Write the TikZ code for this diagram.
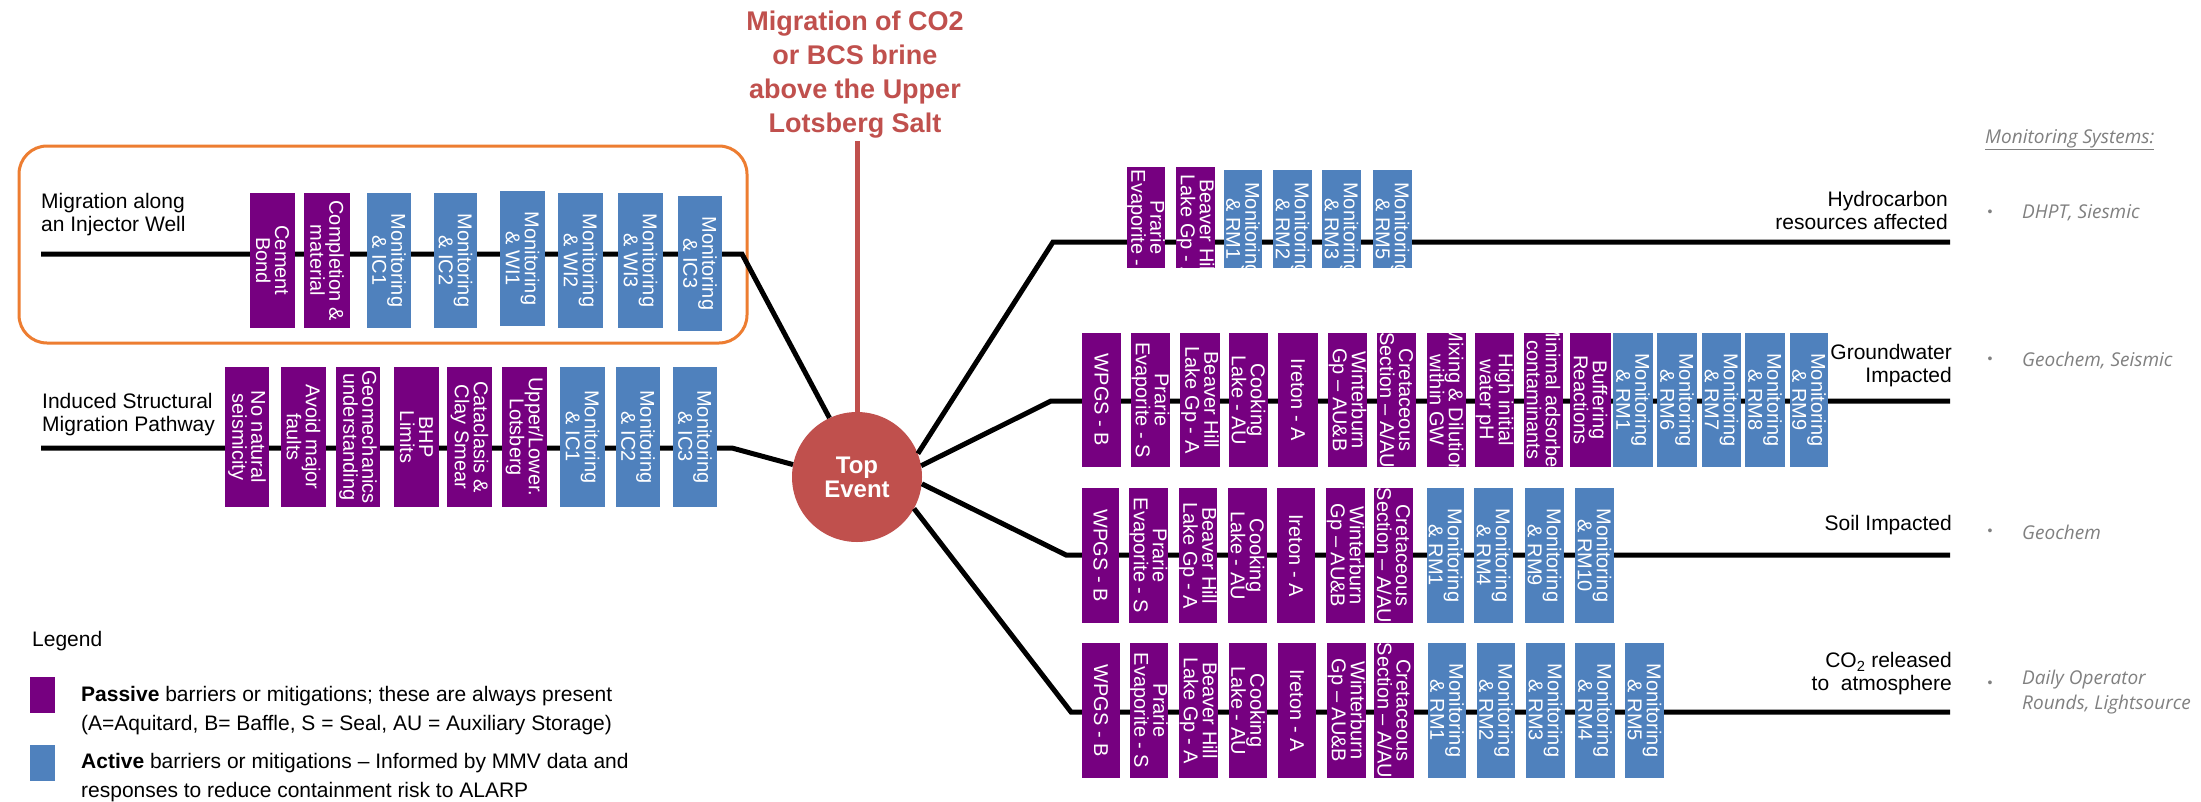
\documentclass[tikz,border=0pt]{standalone}
\usepackage{fontspec}
\setmainfont{Liberation Sans}
\newfontfamily\notefont{Open Sans}
\definecolor{passive}{RGB}{118,0,128}
\definecolor{active}{RGB}{79,129,189}
\definecolor{eventred}{RGB}{192,80,77}
\definecolor{wellorange}{RGB}{237,125,49}
\definecolor{notegray}{RGB}{128,128,128}

\tikzset{
  branch/.style={line width=5pt, black},
  riser/.style={line width=5pt, eventred},
  barbox/.style={inner sep=0pt, outer sep=0pt, draw=none},
  bartext/.style={rotate=-90, text=white, align=center, inner sep=0pt,
    font=\fontsize{20}{19}\selectfont},
  lbl/.style={inner sep=0pt, font=\fontsize{21}{23}\selectfont},
  lgd/.style={inner sep=0pt, font=\fontsize{21}{29}\selectfont, align=left, anchor=west},
  note/.style={inner sep=0pt, text=notegray, anchor=west,
    font=\notefont\itshape\fontsize{19}{25}\selectfont},
  dot/.style={inner sep=0pt, text=notegray, font=\fontsize{14}{14}\selectfont},
  swatch/.style={inner sep=0pt, minimum width=25pt, minimum height=36pt, anchor=north west},
}

% vertical drop of the text inside a barrier box (pt, downwards)
\def\textdrop{0}
% barrier box: name, colour, left, right, top, bottom, text (clipped to the box)
\newcommand{\barrier}[7]{%
  \node[barbox, fill=#2, minimum width={(#4-#3)*1pt}, minimum height={(#6-#5)*1pt},
        path picture={\node[bartext] (#1t) at ([yshift=-\textdrop pt]path picture bounding box.center) {#7};}]
        (#1) at ({(#3+#4)/2},{(#5+#6)/2}) {};}

\begin{document}
\begin{tikzpicture}[x=1pt, y=-1pt]
\path[use as bounding box, fill=white] (0,0) rectangle (2201,801);

% title and top event
\node[align=center, text=eventred, inner sep=0pt,
      font=\bfseries\fontsize{27}{34}\selectfont] (title) at (855,75)
      {Migration of CO2\\or BCS brine\\above the Upper\\Lotsberg Salt};
\node[circle, fill=eventred, minimum size=130pt, inner sep=0pt, text=white, align=center,
      font=\bfseries\fontsize{24}{24}\selectfont] (top) at (857,477) {Top\\Event};
\coordinate (rise) at (857,141);
\draw[riser] (rise) -- (top.north);

% injector-well group frame
\draw[wellorange, line width=3pt, rounded corners=28pt] (19,146) rectangle (747,343);

% threat branches (left)
\coordinate (a1) at (41,254);  \coordinate (a1b) at (742,254);
\coordinate (a2) at (41,448);  \coordinate (a2b) at (732,448);
\draw[branch] (a1) -- (a1b) -- (top.115);
\draw[branch] (a2) -- (a2b) -- (top.169);

% consequence branches (right)
\coordinate (b1) at (1950,242); \coordinate (b1b) at (1053,242);
\coordinate (b2) at (1950,401); \coordinate (b2b) at (1051,401);
\coordinate (b3) at (1950,555); \coordinate (b3b) at (1066,555);
\coordinate (b4) at (1950,712); \coordinate (b4b) at (1071,712);
\draw[branch] (top.21)  -- (b1b) -- (b1);
\draw[branch] (top.10)  -- (b2b) -- (b2);
\draw[branch] (top.-6)  -- (b3b) -- (b3);
\draw[branch] (top.-29) -- (b4b) -- (b4);

% injector well barriers
\barrier{w1}{passive}{250}{295}{193}{328}{Cement\\Bond}
\barrier{w2}{passive}{304}{350}{193}{328}{Completion \&\\material}
\barrier{w3}{active}{367}{411}{193}{328}{Monitoring\\\& IC1}
\barrier{w4}{active}{434}{477}{193}{328}{Monitoring\\\& IC2}
\barrier{w5}{active}{500}{545}{191}{326}{Monitoring\\\& WI1}
\barrier{w6}{active}{558}{603}{193}{328}{Monitoring\\\& WI2}
\barrier{w7}{active}{618}{663}{193}{328}{Monitoring\\\& WI3}
\barrier{w8}{active}{678}{722}{196}{331}{Monitoring\\\& IC3}

% structural pathway barriers
\barrier{s1}{passive}{225}{269}{367}{507}{No natural\\seismicity}
\barrier{s2}{passive}{281}{326}{367}{507}{Avoid major\\faults}
\barrier{s3}{passive}{336}{380}{367}{507}{Geomechanics\\understanding}
\barrier{s4}{passive}{394}{439}{367}{507}{BHP\\Limits}
\barrier{s5}{passive}{447}{492}{367}{507}{Cataclasis \&\\Clay Smear}
\barrier{s6}{passive}{502}{547}{367}{507}{Upper/Lower.\\Lotsberg}
\barrier{s7}{active}{560}{605}{367}{507}{Monitoring\\\& IC1}
\barrier{s8}{active}{616}{660}{367}{507}{Monitoring\\\& IC2}
\barrier{s9}{active}{673}{717}{367}{507}{Monitoring\\\& IC3}

% hydrocarbon resources (short boxes, text runs past the lower edge)
\def\textdrop{10}
\barrier{h1}{passive}{1127}{1165}{167}{268}{Prarie\\Evaporite - S}
\barrier{h2}{passive}{1176}{1215}{167}{268}{Beaver Hill\\Lake Gp - A}
\barrier{h3}{active}{1224}{1262}{170}{268}{Monitoring\\\& RM1}
\barrier{h4}{active}{1273}{1312}{170}{268}{Monitoring\\\& RM2}
\barrier{h5}{active}{1322}{1361}{170}{268}{Monitoring\\\& RM3}
\barrier{h6}{active}{1373}{1412}{170}{268}{Monitoring\\\& RM5}
\def\textdrop{0}

% groundwater
\barrier{g1}{passive}{1082}{1121}{333}{467}{WPGS - B}
\barrier{g2}{passive}{1131}{1170}{333}{467}{Prarie\\Evaporite - S}
\barrier{g3}{passive}{1180}{1220}{333}{467}{Beaver Hill\\Lake Gp - A}
\barrier{g4}{passive}{1229}{1268}{333}{467}{Cooking\\Lake - AU}
\barrier{g5}{passive}{1278}{1318}{333}{467}{Ireton - A}
\barrier{g6}{passive}{1328}{1367}{333}{467}{Winterburn\\Gp -- AU\&B}
\barrier{g7}{passive}{1377}{1416}{333}{467}{Cretaceous\\Section -- A/AU}
\barrier{g8}{passive}{1427}{1466}{333}{467}{Mixing \& Dilution\\within GW}
\barrier{g9}{passive}{1475}{1514}{333}{467}{High initial\\water pH}
\barrier{g10}{passive}{1524}{1563}{333}{467}{Minimal adsorbed\\contaminants}
\barrier{g11}{passive}{1570}{1611}{333}{467}{Buffering\\Reactions}
\barrier{g12}{active}{1613}{1653}{333}{467}{Monitoring\\\& RM1}
\barrier{g13}{active}{1657}{1697}{333}{467}{Monitoring\\\& RM6}
\barrier{g14}{active}{1702}{1741}{333}{467}{Monitoring\\\& RM7}
\barrier{g15}{active}{1745}{1785}{333}{467}{Monitoring\\\& RM8}
\barrier{g16}{active}{1790}{1828}{333}{467}{Monitoring\\\& RM9}

% soil
\barrier{o1}{passive}{1082}{1119}{488}{623}{WPGS - B}
\barrier{o2}{passive}{1129}{1168}{488}{623}{Prarie\\Evaporite - S}
\barrier{o3}{passive}{1179}{1217}{488}{623}{Beaver Hill\\Lake Gp - A}
\barrier{o4}{passive}{1228}{1267}{488}{623}{Cooking\\Lake - AU}
\barrier{o5}{passive}{1277}{1315}{488}{623}{Ireton - A}
\barrier{o6}{passive}{1326}{1365}{488}{623}{Winterburn\\Gp -- AU\&B}
\barrier{o7}{passive}{1374}{1413}{488}{623}{Cretaceous\\Section -- A/AU}
\barrier{o8}{active}{1427}{1464}{488}{623}{Monitoring\\\& RM1}
\barrier{o9}{active}{1474}{1513}{488}{623}{Monitoring\\\& RM4}
\barrier{o10}{active}{1525}{1564}{488}{623}{Monitoring\\\& RM9}
\barrier{o11}{active}{1575}{1614}{488}{623}{Monitoring\\\& RM10}

% atmosphere
\barrier{c1}{passive}{1082}{1120}{643}{778}{WPGS - B}
\barrier{c2}{passive}{1130}{1168}{643}{778}{Prarie\\Evaporite - S}
\barrier{c3}{passive}{1179}{1218}{643}{778}{Beaver Hill\\Lake Gp - A}
\barrier{c4}{passive}{1229}{1267}{643}{778}{Cooking\\Lake - AU}
\barrier{c5}{passive}{1278}{1316}{643}{778}{Ireton - A}
\barrier{c6}{passive}{1327}{1366}{643}{778}{Winterburn\\Gp -- AU\&B}
\barrier{c7}{passive}{1374}{1414}{643}{778}{Cretaceous\\Section -- A/AU}
\barrier{c8}{active}{1428}{1466}{643}{778}{Monitoring\\\& RM1}
\barrier{c9}{active}{1477}{1515}{643}{778}{Monitoring\\\& RM2}
\barrier{c10}{active}{1526}{1565}{643}{778}{Monitoring\\\& RM3}
\barrier{c11}{active}{1575}{1615}{643}{778}{Monitoring\\\& RM4}
\barrier{c12}{active}{1625}{1664}{643}{778}{Monitoring\\\& RM5}

% branch labels
\node[lbl, align=left, anchor=west] (l1) at (41,215) {Migration along\\an Injector Well};
\node[lbl, align=left, anchor=west] (l2) at (42,415) {Induced Structural\\Migration Pathway};
\node[lbl, align=right, anchor=east] (r1) at (1948,210) {Hydrocarbon\\resources affected};
\node[lbl, align=right, anchor=east] (r2) at (1952,366) {Groundwater\\Impacted};
\node[lbl, align=right, anchor=east] (r3) at (1952,525) {Soil Impacted};
\node[lbl, align=right, anchor=east] (r4) at (1952,674) {CO\textsubscript{2} released\\to\ \ atmosphere};

% monitoring systems column
\node[note] (ms) at (1985,140) {\underline{Monitoring Systems:}};
\node[dot] (d1) at (1990,213) {•};
\node[note] (m1) at (2022,213) {DHPT, Siesmic};
\node[dot] (d2) at (1990,360) {•};
\node[note] (m2) at (2022,360) {Geochem, Seismic};
\node[dot] (d3) at (1990,532) {•};
\node[note] (m3) at (2022,532) {Geochem};
\node[dot] (d4) at (1990,684) {•};
\node[note, align=left, anchor=north west] (m4) at (2022,670) {Daily Operator\\Rounds, Lightsource};

% legend
\node[lgd] (lg) at (32,641) {Legend};
\node[swatch, fill=passive] (lp) at (30,677) {};
\node[lgd] (lpt) at (81,711) {\textbf{Passive} barriers or mitigations; these are always present\\(A=Aquitard, B= Baffle, S = Seal, AU = Auxiliary Storage)};
\node[swatch, fill=active] (la) at (30,745) {};
\node[lgd] (lat) at (81,778) {\textbf{Active} barriers or mitigations -- Informed by MMV data and\\responses to reduce containment risk to ALARP};
\end{tikzpicture}
\end{document}
